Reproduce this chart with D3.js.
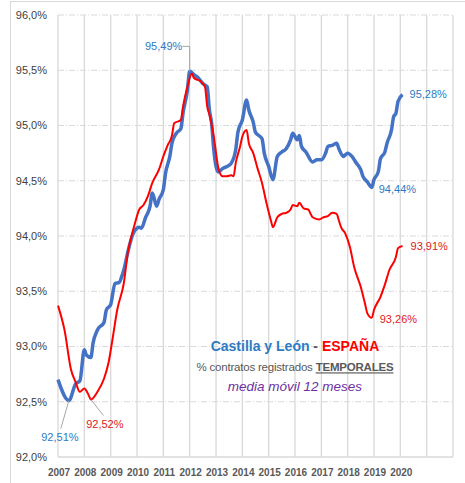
<!DOCTYPE html>
<html>
<head>
    <meta charset="utf-8">
    <title></title>
    <script src="https://d3js.org/d3.v7.min.js"></script>
    <style type="text/css">
        html, body {
            margin: 0;
            padding: 0;
            background: #fff;
        }
        svg text {
            font-family: "Liberation Sans", Arial, sans-serif;
        }
    </style>
</head>
<body>

    <svg id="main"></svg>

    <script>
      // settings
      const width  = 465;
      const height = 483;
      const margin = {top: 15, right: 12, bottom: 26, left: 58};

      // data: 12-month moving average, % of temporary contracts
      const fechasCyL = ["2007-01","2007-06","2007-09","2007-11","2008-01","2008-02","2008-04","2008-05","2008-07","2008-10",
        "2008-11","2009-01","2009-03","2009-05","2009-06","2009-07","2009-09","2009-11","2009-12","2010-02",
        "2010-03","2010-05","2010-07","2010-08","2010-10","2010-11","2011-01","2011-02","2011-04","2011-05",
        "2011-07","2011-09","2011-10","2011-12","2012-01","2012-03","2012-05","2012-07","2012-09","2012-10",
        "2012-11","2012-12","2013-02","2013-04","2013-07","2013-08","2013-10","2013-11","2014-01","2014-03",
        "2014-04","2014-06","2014-07","2014-10","2014-11","2015-01","2015-03","2015-05","2015-07","2015-09",
        "2015-11","2015-12","2016-02","2016-03","2016-04","2016-06","2016-09","2016-11","2017-01","2017-03",
        "2017-04","2017-06","2017-08","2017-09","2017-11","2018-01","2018-03","2018-05","2018-07","2018-08",
        "2018-10","2018-12","2019-01","2019-03","2019-04","2019-06","2019-07","2019-09","2019-10","2019-11",
        "2019-12","2020-02"];
      const valoresCyL = [92.70,92.51,92.66,92.69,92.97,92.92,92.90,93.03,93.15,93.22,
        93.33,93.38,93.57,93.58,93.63,93.69,93.87,94.01,94.05,94.08,
        94.07,94.17,94.27,94.39,94.27,94.33,94.42,94.57,94.72,94.84,
        94.93,94.97,95.11,95.32,95.49,95.46,95.43,95.38,95.35,95.14,
        95.02,94.78,94.58,94.61,94.64,94.66,94.78,94.94,95.05,95.23,
        95.14,95.03,94.94,94.88,94.75,94.63,94.51,94.72,94.76,94.79,
        94.87,94.93,94.87,94.91,94.81,94.76,94.67,94.69,94.69,94.75,
        94.81,94.82,94.84,94.79,94.72,94.75,94.72,94.66,94.60,94.54,
        94.49,94.44,94.51,94.58,94.70,94.76,94.84,94.96,95.08,95.11,
        95.22,95.28];

      const fechasEsp = ["2007-01","2007-04","2007-07","2007-09","2007-11","2008-01","2008-03","2008-04","2008-07","2008-10",
        "2008-12","2009-02","2009-04","2009-07","2009-09","2009-10","2009-12","2010-02","2010-04","2010-06",
        "2010-08","2010-11","2011-01","2011-03","2011-05","2011-06","2011-09","2011-10","2011-12","2012-02",
        "2012-03","2012-06","2012-08","2012-09","2012-10","2012-12","2013-02","2013-04","2013-06","2013-08",
        "2013-09","2013-10","2013-12","2014-01","2014-03","2014-04","2014-06","2014-08","2014-10","2014-12",
        "2015-02","2015-03","2015-05","2015-07","2015-09","2015-11","2015-12","2016-02","2016-03","2016-05",
        "2016-07","2016-09","2016-12","2017-02","2017-04","2017-06","2017-08","2017-09","2017-10","2017-12",
        "2018-02","2018-04","2018-07","2018-09","2018-10","2018-12","2019-01","2019-04","2019-06","2019-08",
        "2019-11","2019-12","2020-02"];
      const valoresEsp = [93.37,93.15,92.79,92.68,92.59,92.62,92.56,92.52,92.59,92.71,
        92.85,93.09,93.33,93.57,93.87,93.96,94.11,94.24,94.28,94.36,
        94.48,94.60,94.72,94.82,94.91,95.02,95.05,95.17,95.35,95.47,
        95.43,95.40,95.35,95.17,95.10,94.90,94.62,94.54,94.54,94.55,
        94.54,94.66,94.81,94.90,94.96,94.84,94.75,94.61,94.48,94.30,
        94.14,94.08,94.17,94.20,94.21,94.24,94.28,94.27,94.30,94.25,
        94.24,94.17,94.15,94.17,94.18,94.21,94.20,94.14,94.08,94.02,
        93.90,93.72,93.54,93.38,93.30,93.26,93.33,93.45,93.56,93.69,
        93.81,93.89,93.91];

      const yTicks     = [92.0, 92.5, 93.0, 93.5, 94.0, 94.5, 95.0, 95.5, 96.0];
      const xYears     = d3.range(2007, 2023);
      const yearLabels = d3.range(2007, 2021);

      // labelled points: [series, date, text, dx, dy, anchor, leader]
      const etiquetas = [
        ["cyl", "2012-01", "95,49%", -25, -25, "middle", "elbow"],
        ["cyl", "2007-06", "92,51%", -9, 37, "middle", "diag"],
        ["esp", "2008-04", "92,52%", 14, 25, "middle", "diag"],
        ["cyl", "2020-02", "95,28%", 7, 0, "start", null],
        ["cyl", "2018-12", "94,44%", 7, 2, "start", null],
        ["esp", "2020-02", "93,91%", 8, 0, "start", null],
        ["esp", "2018-12", "93,26%", 8, 1, "start", null]
      ];

      const BLUE      = "#4472C4";
      const RED       = "#FF0000";
      const BLUE_TXT  = "#2E7BC4";
      const RED_TXT   = "#E02020";
      const GRID      = "#D9D9D9";

      const parse = d3.timeParse("%Y-%m");
      const cyl = fechasCyL.map((f, i) => ({date: parse(f), v: valoresCyL[i]}));
      const esp = fechasEsp.map((f, i) => ({date: parse(f), v: valoresEsp[i]}));
      const series = {cyl, esp};

      // draw
      const svg = d3.select("#main")
        .attr("width", width)
        .attr("height", height);

      // outer chart frame (only top/left visible in the crop)
      svg.append("rect")
        .attr("x", 10.5).attr("y", 1.5)
        .attr("width", width + 20).attr("height", height + 20)
        .attr("fill", "none").attr("stroke", "#D9D9D9");

      const x = d3.scaleTime()
        .domain([new Date(2007, 0, 1), new Date(2022, 0, 1)])
        .range([margin.left, width - margin.right]);
      const y = d3.scaleLinear()
        .domain([92, 96])
        .range([height - margin.bottom, margin.top]);

      // vertical grid
      svg.append("g")
        .selectAll("line")
        .data(xYears)
        .join("line")
        .attr("x1", d => x(new Date(d, 0, 1)))
        .attr("x2", d => x(new Date(d, 0, 1)))
        .attr("y1", y(96))
        .attr("y2", y(92))
        .attr("stroke", GRID)
        .attr("stroke-width", 1.3);

      // horizontal grid (dash-dot)
      svg.append("g")
        .selectAll("line")
        .data(yTicks.filter(d => d > 92))
        .join("line")
        .attr("x1", x.range()[0])
        .attr("x2", x.range()[1])
        .attr("y1", d => y(d))
        .attr("y2", d => y(d))
        .attr("stroke", GRID)
        .attr("stroke-width", 1)
        .attr("stroke-dasharray", "6,2,1,2");

      // x axis line
      svg.append("line")
        .attr("x1", x.range()[0]).attr("x2", x.range()[1])
        .attr("y1", y(92)).attr("y2", y(92))
        .attr("stroke", GRID).attr("stroke-width", 1.3);

      // y labels
      const fmt = d => d.toFixed(1).replace(".", ",") + "%";
      svg.append("g")
        .selectAll("text")
        .data(yTicks)
        .join("text")
        .attr("x", margin.left - 11)
        .attr("y", d => y(d))
        .attr("dy", "0.35em")
        .attr("text-anchor", "end")
        .attr("font-size", 11)
        .attr("fill", "#404040")
        .text(fmt);

      // x labels
      svg.append("g")
        .selectAll("text")
        .data(yearLabels)
        .join("text")
        .attr("x", d => x(new Date(d, 0, 1)) + 1)
        .attr("y", y(92) + 15)
        .attr("dy", "0.35em")
        .attr("text-anchor", "middle")
        .attr("font-size", 10)
        .attr("font-weight", "bold")
        .attr("fill", "#595959")
        .text(d => d);

      const line = d3.line()
        .x(d => x(d.date))
        .y(d => y(d.v))
        .curve(d3.curveMonotoneX);

      svg.append("path")
        .datum(cyl)
        .attr("fill", "none")
        .attr("stroke", BLUE)
        .attr("stroke-width", 3.5)
        .attr("stroke-linejoin", "round")
        .attr("d", line);

      svg.append("path")
        .datum(esp)
        .attr("fill", "none")
        .attr("stroke", RED)
        .attr("stroke-width", 2)
        .attr("stroke-linejoin", "round")
        .attr("d", line);

      // data labels
      etiquetas.forEach(([s, f, txt, dx, dy, anchor, leader]) => {
        const p  = series[s].find(d => +d.date === +parse(f));
        const px = x(p.date), py = y(p.v);
        const tx = px + dx, ty = py + dy;
        if (leader === "elbow") {
          svg.append("path")
            .attr("d", `M${px},${py} V${ty} H${tx + 18}`)
            .attr("fill", "none").attr("stroke", "#A6A6A6").attr("stroke-width", 1);
        } else if (leader === "diag") {
          svg.append("line")
            .attr("x1", px).attr("y1", py)
            .attr("x2", px + dx * 0.9).attr("y2", py + (dy > 0 ? dy - 9 : dy + 9))
            .attr("stroke", "#A6A6A6").attr("stroke-width", 1);
        }
        svg.append("text")
          .attr("x", leader === "elbow" ? tx - 1 : tx)
          .attr("y", ty)
          .attr("dy", "0.35em")
          .attr("text-anchor", anchor)
          .attr("font-size", 11)
          .attr("fill", s === "cyl" ? BLUE_TXT : RED_TXT)
          .text(txt);
      });

      // title block
      const cx = x(new Date(2016, 0, 1));
      const t1 = svg.append("text")
        .attr("x", cx).attr("y", y(92.96))
        .attr("text-anchor", "middle")
        .attr("font-size", 14)
        .attr("font-weight", "bold");
      t1.append("tspan").attr("fill", "#2E7BC4").text("Castilla y León");
      t1.append("tspan").attr("fill", "#595959").text(" - ");
      t1.append("tspan").attr("fill", "#FF0000").text("ESPAÑA");

      const t2 = svg.append("text")
        .attr("x", cx).attr("y", y(92.775))
        .attr("text-anchor", "middle")
        .attr("font-size", 11.5)
        .attr("letter-spacing", -0.2)
        .attr("fill", "#595959");
      t2.append("tspan").text("% contratos registrados ");
      t2.append("tspan").attr("font-weight", "bold").attr("text-decoration", "underline").text("TEMPORALES");

      svg.append("text")
        .attr("x", cx).attr("y", y(92.60))
        .attr("text-anchor", "middle")
        .attr("font-size", 13.5)
        .attr("font-style", "italic")
        .attr("fill", "#7030A0")
        .text("media móvil 12 meses");
    </script>

</body>
</html>
